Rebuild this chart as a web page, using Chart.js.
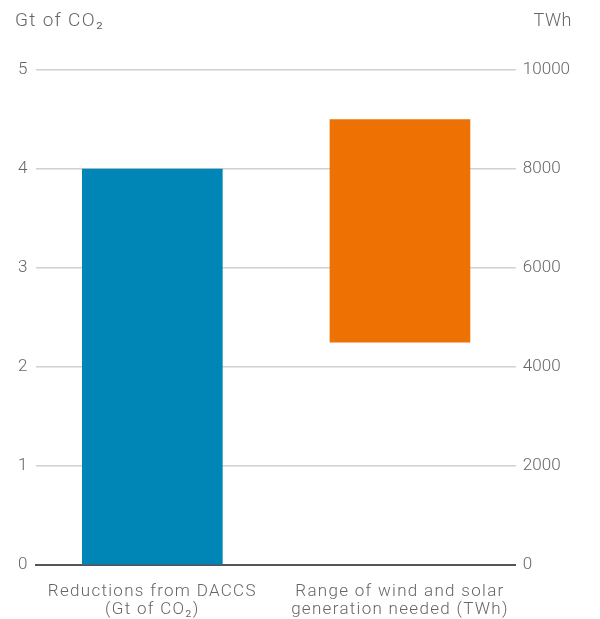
<!DOCTYPE html>
<html lang="en">
  <head>
    <meta charset="UTF-8" />
    <script src="https://cdn.jsdelivr.net/npm/chart.js"></script>
    <title>DACCS</title>
    <style>
      html, body { margin: 0; padding: 0; background: #fff; }
      #wrap { width: 600px; height: 619px; }
    </style>
  </head>
  <body>
    <div id="wrap"><canvas id="myChart"></canvas></div>
    <script>
      // data
      const categories = [
        ["Reductions from DACCS", "(Gt of CO\u2082)"],
        ["Range of wind and solar", "generation needed (TWh)"]
      ];
      const daccsGt = 4;
      const windSolarRange = [4500, 9000];
      const leftTicks = [0, 1, 2, 3, 4, 5];
      const rightTicks = [0, 2000, 4000, 6000, 8000, 10000];
      const leftUnit = "Gt of CO\u2082";
      const rightUnit = "TWh";

      const grey = "#666666";
      const font = { family: "Roboto", size: 17, weight: 300 };

      // unit labels over the axes
      const unitLabels = {
        id: "unitLabels",
        afterDraw(chart) {
          const ctx = chart.ctx;
          ctx.save();
          ctx.fillStyle = grey;
          ctx.textBaseline = "middle";
          ctx.textAlign = "left";
          ctx.font = "300 19px Roboto";
          ctx.letterSpacing = "1.3px";
          ctx.fillText(leftUnit, 15, 21);
          ctx.textAlign = "right";
          ctx.font = "300 18px Roboto";
          ctx.letterSpacing = "0.5px";
          ctx.fillText(rightUnit, 572, 21);
          ctx.restore();
        }
      };

      // wider letter spacing for the category labels
      function spacedLabels(scale) {
        const base = Object.getPrototypeOf(scale).drawLabels;
        scale.drawLabels = function (area) {
          const ctx = this.ctx;
          ctx.save();
          ctx.letterSpacing = "1.3px";
          base.call(this, area);
          ctx.restore();
        };
      }

      new Chart(document.getElementById("myChart"), {
        type: "bar",
        data: {
          datasets: [
            {
              label: "DACCS",
              data: [{ x: 0, y: daccsGt }],
              backgroundColor: "#0086b6",
              yAxisID: "y",
              barThickness: 140,
              grouped: false
            },
            {
              label: "Wind and solar",
              data: [{ x: 1, y: windSolarRange }],
              backgroundColor: "#ee7203",
              yAxisID: "y2",
              barThickness: 140,
              grouped: false
            }
          ]
        },
        plugins: [unitLabels],
        options: {
          responsive: true,
          maintainAspectRatio: false,
          animation: false,
          layout: { padding: { top: 70, right: 23, left: 9, bottom: -18 } },
          plugins: { legend: { display: false }, tooltip: { enabled: false } },
          scales: {
            x: {
              type: "linear",
              offset: false,
              min: -0.468,
              max: 1.468,
              afterBuildTicks(scale) {
                scale.ticks = categories.map((c, i) => ({ value: i }));
              },
              afterUpdate: spacedLabels,
              ticks: {
                color: grey,
                font: { family: "Roboto", size: 17, weight: 300, lineHeight: 1.06 },
                padding: 18,
                maxRotation: 0,
                autoSkip: false,
                callback: (v) => categories[v]
              },
              grid: { display: false, drawTicks: false },
              border: { display: true, color: "#555555", width: 2 }
            },
            y: {
              position: "left",
              min: 0,
              max: 5,
              afterBuildTicks(scale) {
                scale.ticks = leftTicks.map((v) => ({ value: v }));
              },
              ticks: { color: grey, font: font, padding: 9 },
              grid: {
                drawTicks: false,
                color: (c) => (c.tick && c.tick.value === 0 ? "rgba(0,0,0,0)" : "#d0d0d0"),
                lineWidth: 1.5
              },
              border: { display: false }
            },
            y2: {
              position: "right",
              min: 0,
              max: 10000,
              afterBuildTicks(scale) {
                scale.ticks = rightTicks.map((v) => ({ value: v }));
              },
              ticks: { color: grey, font: font, padding: 7, callback: (v) => String(v) },
              grid: { display: false, drawTicks: false },
              border: { display: false }
            }
          }
        }
      });
    </script>
  </body>
</html>
